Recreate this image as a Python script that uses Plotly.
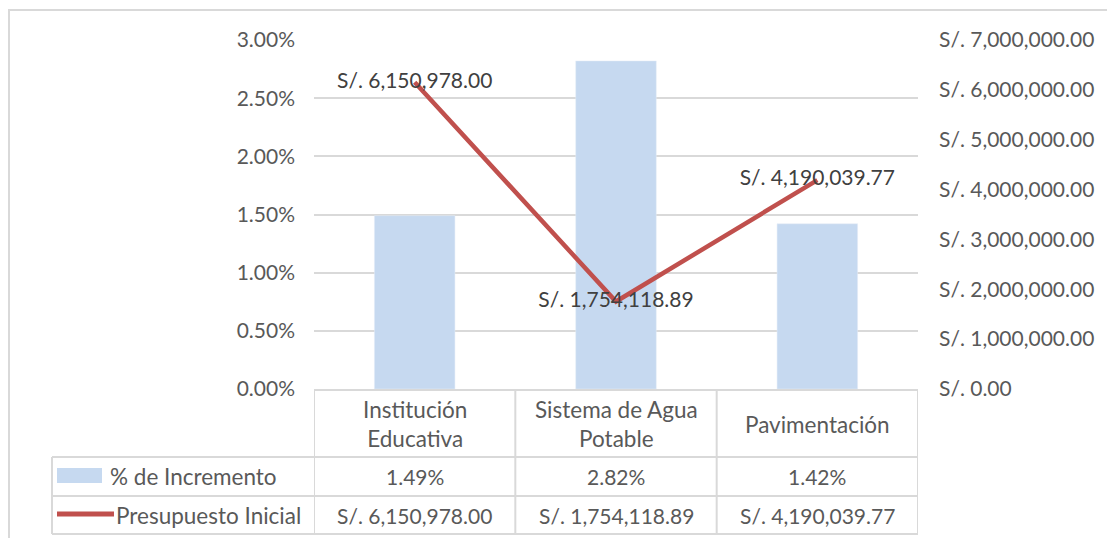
import plotly.graph_objects as go

categories = ["Institución<br>Educativa", "Sistema de Agua<br>Potable", "Pavimentación"]
pct_incremento = [0.0149, 0.0282, 0.0142]
presupuesto = [6150978.00, 1754118.89, 4190039.77]
series_names = ["% de Incremento", "Presupuesto Inicial"]
left_ticks = [0, 0.005, 0.01, 0.015, 0.02, 0.025, 0.03]
right_ticks = [0, 1e6, 2e6, 3e6, 4e6, 5e6, 6e6, 7e6]

OFF = 8  # page body margin
W, H = 1115 - OFF, 538 - OFF
L, R, T, B = 314 - OFF, 918 - OFF, 40 - OFF, 389 - OFF
FONT = "Lato"
FS = 21
FS_WORDS = 22.5
TXT = "#595959"
GRID = "#D9D9D9"
BAR = "#C6D9F0"
LINE = "#C0504D"

def px(x):
    return (x - OFF - L) / (R - L)

def py(y):
    return (B - (y - OFF)) / (B - T)

def money(v):
    return "S/. {:,.2f}".format(v)

xs = list(range(len(categories)))

fig = go.Figure()
fig.add_trace(go.Bar(x=xs, y=pct_incremento, marker_color=BAR, width=0.4,
                     name=series_names[0], showlegend=False))
fig.add_trace(go.Scatter(x=xs, y=presupuesto, yaxis="y2", mode="lines+text",
                         line=dict(color=LINE, width=4.5),
                         text=[money(v) for v in presupuesto],
                         textposition="middle center",
                         textfont=dict(family=FONT, size=FS, color="#404040"),
                         name=series_names[1], showlegend=False, cliponaxis=False))

shapes = []
shapes.append(dict(type="rect", xref="paper", yref="paper", x0=px(9), x1=px(1140),
                   y0=py(560), y1=py(10), line=dict(color=GRID, width=2), layer="below"))
for yy in [457, 496, 534]:
    shapes.append(dict(type="line", xref="paper", yref="paper", x0=px(52), x1=1,
                       y0=py(yy), y1=py(yy), line=dict(color=GRID, width=2)))
for b in [-0.5, 0.5, 1.5, 2.5]:
    shapes.append(dict(type="line", xref="x", yref="paper", x0=b, x1=b,
                       y0=py(391), y1=py(534), line=dict(color=GRID, width=2)))
shapes.append(dict(type="line", xref="paper", yref="paper", x0=px(52), x1=px(52),
                   y0=py(457), y1=py(534), line=dict(color=GRID, width=2)))
shapes.append(dict(type="rect", xref="paper", yref="paper", x0=px(57), x1=px(102),
                   y0=py(483), y1=py(468), fillcolor=BAR, line=dict(width=0)))
shapes.append(dict(type="line", xref="paper", yref="paper", x0=px(57), x1=px(114),
                   y0=py(514), y1=py(514), line=dict(color=LINE, width=5)))

annotations = []
for i, c in enumerate(categories):
    annotations.append(dict(x=i, y=py(424), xref="x", yref="paper", text=c,
                            showarrow=False, font=dict(family=FONT, size=FS_WORDS, color=TXT),
                            align="center", yanchor="middle"))
    annotations.append(dict(x=i, y=py(476), xref="x", yref="paper",
                            text="{:.2f}%".format(pct_incremento[i] * 100),
                            showarrow=False, font=dict(family=FONT, size=FS, color=TXT),
                            yanchor="middle"))
    annotations.append(dict(x=i, y=py(515), xref="x", yref="paper",
                            text=money(presupuesto[i]),
                            showarrow=False, font=dict(family=FONT, size=FS, color=TXT),
                            yanchor="middle"))
annotations.append(dict(x=px(108), y=py(476), xref="paper", yref="paper",
                        text=series_names[0], showarrow=False, xanchor="left",
                        yanchor="middle", font=dict(family=FONT, size=FS_WORDS, color=TXT)))
annotations.append(dict(x=px(114), y=py(515), xref="paper", yref="paper",
                        text=series_names[1], showarrow=False, xanchor="left",
                        yanchor="middle", font=dict(family=FONT, size=FS_WORDS, color=TXT)))

fig.update_layout(
    width=W, height=H,
    margin=dict(l=L, r=W - R, t=T, b=H - B),
    paper_bgcolor="white", plot_bgcolor="white",
    xaxis=dict(range=[-0.5, 2.5], showticklabels=False, showgrid=False,
               showline=True, linecolor=GRID, linewidth=2, zeroline=False),
    yaxis=dict(range=[0, 0.03], tickvals=left_ticks, tickformat=".2%",
               showgrid=True, gridcolor=GRID, gridwidth=1.5, zeroline=False,
               showline=False, ticklabelstandoff=18,
               tickfont=dict(family=FONT, size=FS, color=TXT)),
    yaxis2=dict(range=[0, 7e6], tickvals=right_ticks,
                ticktext=[money(v) for v in right_ticks],
                overlaying="y", side="right", showgrid=False, zeroline=False,
                showline=False, ticklabelstandoff=20,
                tickfont=dict(family=FONT, size=FS, color=TXT)),
    shapes=shapes, annotations=annotations,
)

fig.write_html("out.html")
